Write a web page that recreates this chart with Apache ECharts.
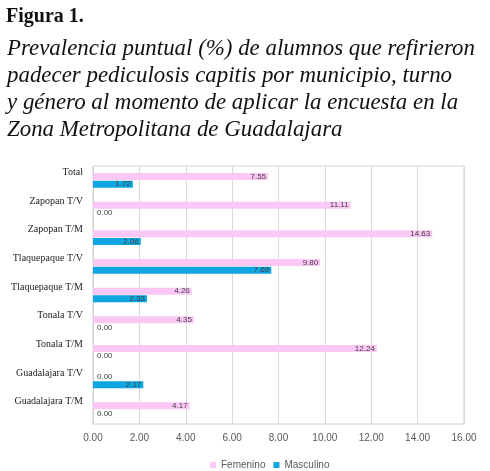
<!DOCTYPE html>
<html>
<head>
<meta charset="utf-8">
<script src="https://cdn.jsdelivr.net/npm/echarts@6/dist/echarts.min.js"></script>
<style>
html,body{margin:0;padding:0;background:#fff;}
#chart{width:490px;height:471px;}
</style>
</head>
<body>
<div id="chart"></div>
<script>
const categories = ['Total','Zapopan T/V','Zapopan T/M','Tlaquepaque T/V','Tlaquepaque T/M','Tonala T/V','Tonala T/M','Guadalajara T/V','Guadalajara T/M'];
const femenino = [7.55, 11.11, 14.63, 9.80, 4.26, 4.35, 12.24, 0.00, 4.17];
const masculino = [1.72, 0.00, 2.06, 7.69, 2.33, 0.00, 0.00, 2.17, 0.00];
const seriesNames = ['Femenino', 'Masculino'];
const titleText = 'Figura 1.';
const subtitleLines = [
  'Prevalencia puntual (%) de alumnos que refirieron',
  'padecer pediculosis capitis por municipio, turno',
  'y género al momento de aplicar la encuesta en la',
  'Zona Metropolitana de Guadalajara'
];

function items(arr) {
  return arr.map(v => ({ value: v, label: { position: v === 0 ? 'right' : 'insideRight', distance: v === 0 ? 4 : 2 } }));
}

const chart = echarts.init(document.getElementById('chart'));
chart.setOption({
  animation: false,
  backgroundColor: '#fff',
  title: [
    { text: titleText, left: 1, top: 2,
      textStyle: { fontFamily: 'Liberation Serif', fontSize: 20, fontWeight: 'bold', color: '#111' } },
    { text: subtitleLines.join('\n'), left: 2, top: 30,
      textStyle: { fontFamily: 'Liberation Serif', fontSize: 22.9, fontStyle: 'italic', fontWeight: 'normal', color: '#111', lineHeight: 27 } }
  ],
  legend: {
    data: seriesNames, left: 205, top: 455, itemWidth: 6, itemHeight: 6, itemGap: 8,
    icon: 'rect',
    textStyle: { fontFamily: 'Liberation Sans', fontSize: 10, color: '#595959' }
  },
  grid: { left: 93, right: 26, top: 166, bottom: 47, show: true, borderColor: '#d0d0d0', borderWidth: 1 },
  xAxis: {
    type: 'value', min: 0, max: 16, interval: 2,
    axisLine: { show: false }, axisTick: { show: false },
    splitLine: { lineStyle: { color: '#d9d9d9' } },
    axisLabel: { formatter: v => v.toFixed(2), fontFamily: 'Liberation Sans', fontSize: 10, color: '#595959', margin: 9 }
  },
  yAxis: {
    type: 'category', data: categories, inverse: true,
    axisLine: { lineStyle: { color: '#d0d0d0' } }, axisTick: { show: false },
    axisLabel: { fontFamily: 'Liberation Serif', fontSize: 10, color: '#222', margin: 10, verticalAlign: 'bottom', lineHeight: 16 }
  },
  series: [
    { name: seriesNames[0], type: 'bar', data: items(femenino), barWidth: 7, barGap: '10%',
      itemStyle: { color: '#fbc8f6' },
      label: { show: true, formatter: p => p.value.toFixed(2), fontFamily: 'Liberation Sans', fontSize: 8, color: '#404040' } },
    { name: seriesNames[1], type: 'bar', data: items(masculino), barWidth: 7, barGap: '10%',
      itemStyle: { color: '#0ea5e0' },
      label: { show: true, formatter: p => p.value.toFixed(2), fontFamily: 'Liberation Sans', fontSize: 8, color: '#404040' } }
  ]
});
</script>
</body>
</html>
